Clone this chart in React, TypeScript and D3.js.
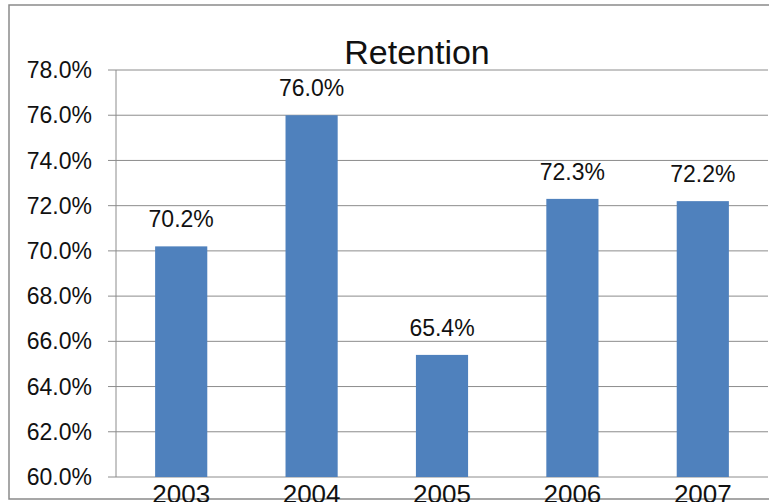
import * as d3 from "d3";

const WIDTH = 769;
const HEIGHT = 502;
const MARGIN = { top: 70, right: 1, bottom: 25, left: 116 };

const YEARS = ["2003", "2004", "2005", "2006", "2007"];
const RETENTION = [70.2, 76.0, 65.4, 72.3, 72.2];
const Y_TICKS = [60, 62, 64, 66, 68, 70, 72, 74, 76, 78];

const BAR_COLOR = "#4f81bd";
const GRID_COLOR = "#8c8c8c";
const FONT = "'Liberation Sans', Arial, sans-serif";

const AxisLeft = ({ yScale }: { yScale: d3.ScaleLinear<number, number> }) => {
  return (
    <>
      {Y_TICKS.map((t) => (
        <g key={t} transform={`translate(0, ${yScale(t)})`}>
          <line x1={-8} x2={0} stroke={GRID_COLOR} />
          <text
            x={-24}
            dy="0.35em"
            textAnchor="end"
            fontSize={23}
            fill="#111"
          >
            {t.toFixed(1) + "%"}
          </text>
        </g>
      ))}
      <line y1={yScale(78)} y2={yScale(60)} stroke={GRID_COLOR} />
    </>
  );
};

export default function App() {
  const boundsWidth = WIDTH - MARGIN.left - MARGIN.right;
  const boundsHeight = HEIGHT - MARGIN.top - MARGIN.bottom;

  const xScale = d3
    .scaleBand<string>()
    .domain(YEARS)
    .range([0, boundsWidth])
    .paddingInner(0.6)
    .paddingOuter(0.3);

  const yScale = d3.scaleLinear().domain([60, 78]).range([boundsHeight, 0]);

  return (
    <svg
      width={WIDTH}
      height={HEIGHT}
      style={{ position: "absolute", left: 0, top: 0, fontFamily: FONT }}
    >
      <rect width={WIDTH} height={HEIGHT} fill="#fff" />
      {/* outer chart border, right edge is cut off in the original */}
      <rect
        x={9}
        y={5}
        width={820}
        height={494}
        fill="none"
        stroke="#8a8a8a"
        strokeWidth={1.5}
      />
      <text x={417} y={64} textAnchor="middle" fontSize={34} fill="#111">
        Retention
      </text>
      <g transform={`translate(${MARGIN.left}, ${MARGIN.top})`}>
        {/* gridlines */}
        {Y_TICKS.map((t) => (
          <line
            key={t}
            x1={0}
            x2={boundsWidth}
            y1={yScale(t)}
            y2={yScale(t)}
            stroke={GRID_COLOR}
          />
        ))}
        {RETENTION.map((v, i) => {
          const x = xScale(YEARS[i]) ?? 0;
          return (
            <g key={YEARS[i]}>
              <rect
                x={x}
                y={yScale(v)}
                width={xScale.bandwidth()}
                height={boundsHeight - yScale(v)}
                fill={BAR_COLOR}
              />
              <text
                x={x + xScale.bandwidth() / 2}
                y={yScale(v) - 19}
                textAnchor="middle"
                fontSize={23}
                fill="#111"
              >
                {v.toFixed(1) + "%"}
              </text>
            </g>
          );
        })}
        <AxisLeft yScale={yScale} />
        {/* X axis labels */}
        {YEARS.map((y) => (
          <text
            key={y}
            x={(xScale(y) ?? 0) + xScale.bandwidth() / 2}
            y={boundsHeight + 26}
            textAnchor="middle"
            fontSize={26}
            fill="#111"
          >
            {y}
          </text>
        ))}
      </g>
    </svg>
  );
}
